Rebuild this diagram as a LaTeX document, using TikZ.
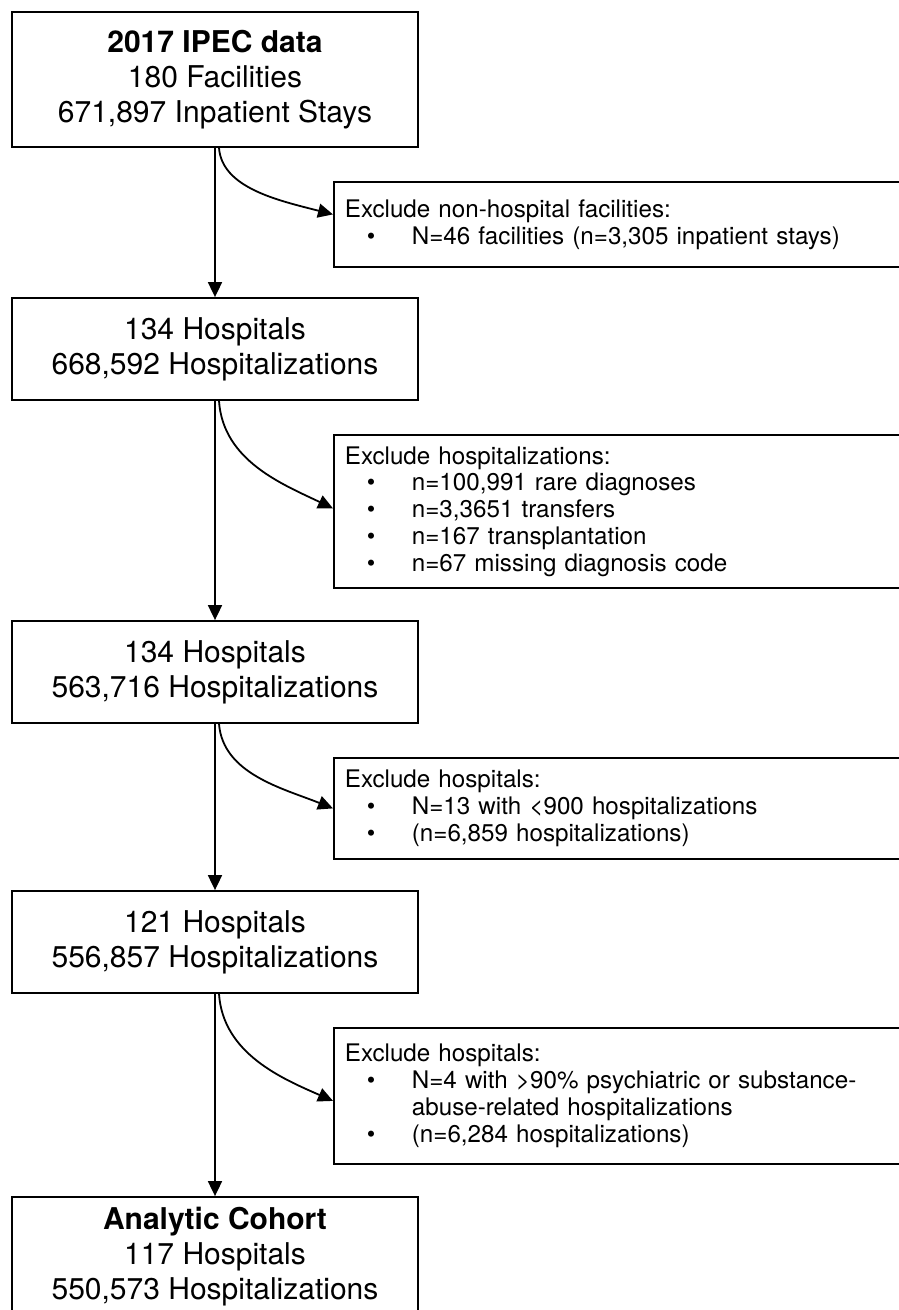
\documentclass[tikz,border=0pt]{standalone}
\usepackage{fontspec}
\setmainfont{TeX Gyre Heros}
\usetikzlibrary{arrows.meta}
\newcommand\bitem[1]{\leavevmode\hbox to 67pt{\hspace*{22pt}\textbullet\hfil}#1}
\newcommand\bcont[1]{\leavevmode\hspace*{67pt}#1}
\begin{document}
\begin{tikzpicture}[x=1pt,y=-1pt,
  main/.style={draw, line width=1.8pt, minimum width=406pt, align=center,
    font=\fontsize{30}{35}\selectfont, inner sep=0pt},
  excl/.style={draw, line width=1.8pt, minimum width=580pt, anchor=north west,
    align=left, text width=558pt, font=\fontsize{24.2}{26.75}\selectfont,
    inner xsep=11pt, inner ysep=0pt},
  arr/.style={line width=1.8pt, -{Triangle[length=15pt,width=14pt]}}]
\path[use as bounding box] (0,0) rectangle (899,1310);
\clip (0,0) rectangle (899,1310);

\node[main, minimum height=135pt] (b1) at (215,79.5)
  {\textbf{2017 IPEC data}\\180 Facilities\\671,897 Inpatient Stays};
\node[main, minimum height=102pt] (b2) at (215,349)
  {134 Hospitals\\668,592 Hospitalizations};
\node[main, minimum height=102pt] (b3) at (215,672)
  {134 Hospitals\\563,716 Hospitalizations};
\node[main, minimum height=102pt] (b4) at (215,942)
  {121 Hospitals\\556,857 Hospitalizations};
\node[main, minimum height=120pt] (b5) at (215,1257)
  {\textbf{Analytic Cohort}\\117 Hospitals\\550,573 Hospitalizations};

\node[excl, minimum height=85pt] (e1) at (333,181)
  {Exclude non-hospital facilities:\\
   \bitem{N=46 facilities (n=3,305 inpatient stays)}};
\node[excl, minimum height=153pt] (e2) at (333,434)
  {Exclude hospitalizations:\\
   \bitem{n=100,991 rare diagnoses}\\
   \bitem{n=3,3651 transfers}\\
   \bitem{n=167 transplantation}\\
   \bitem{n=67 missing diagnosis code}};
\node[excl, minimum height=101pt] (e3) at (333,757)
  {Exclude hospitals:\\
   \bitem{N=13 with <900 hospitalizations}\\
   \bitem{(n=6,859 hospitalizations)}};
\node[excl, minimum height=136pt] (e4) at (333,1027)
  {Exclude hospitals:\\
   \bitem{N=4 with >90\% psychiatric or substance-}\\
   \bcont{abuse-related hospitalizations}\\
   \bitem{(n=6,284 hospitalizations)}};

\draw[arr] (b1) -- (b2);
\draw[arr] (b2) -- (b3);
\draw[arr] (b3) -- (b4);
\draw[arr] (b4) -- (b5);

\draw[arr] ([xshift=4pt]b1.south) .. controls +(3,40) and +(-55,-14) .. ([yshift=10pt]e1.west);
\draw[arr] ([xshift=4pt]b2.south) .. controls +(4,60) and +(-50,-24) .. ([yshift=3pt]e2.west);
\draw[arr] ([xshift=4pt]b3.south) .. controls +(4,50) and +(-50,-20) .. (e3.west);
\draw[arr] ([xshift=4pt]b4.south) .. controls +(4,60) and +(-50,-22) .. ([yshift=-5pt]e4.west);
\end{tikzpicture}
\end{document}
